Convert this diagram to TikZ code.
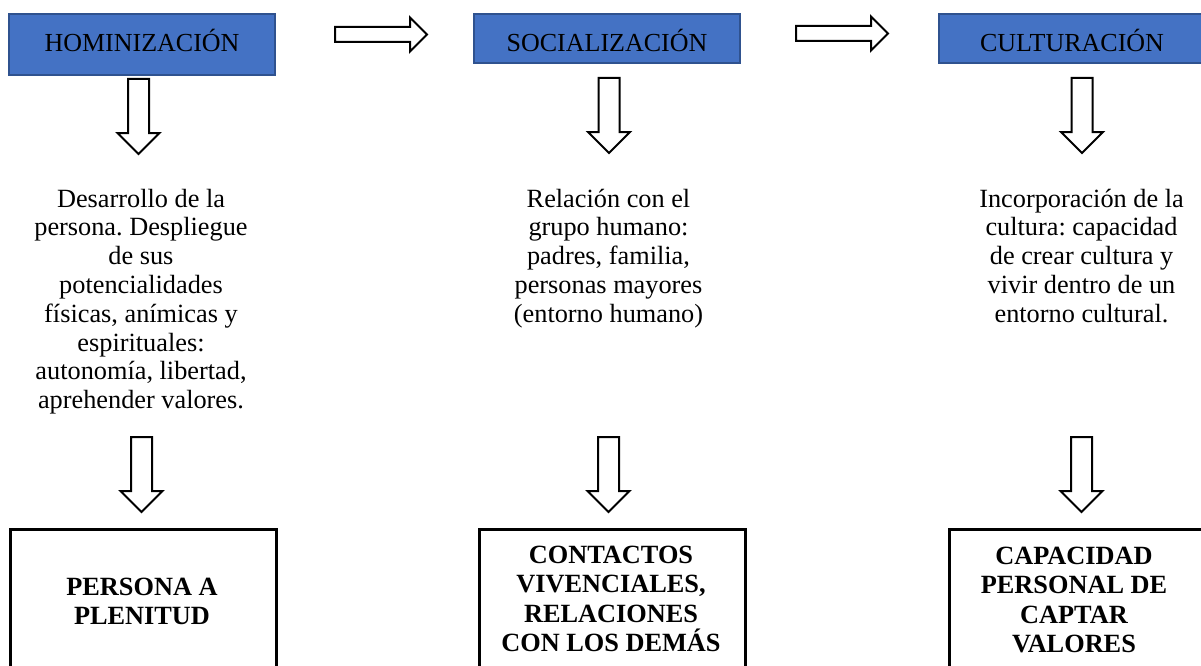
\documentclass[tikz,border=0pt]{standalone}
\usepackage{fontspec}
\setmainfont{Liberation Serif}
\frenchspacing
\definecolor{hdrblue}{HTML}{4472C4}
\definecolor{hdredge}{HTML}{2F528F}
\tikzset{
  hdr/.style={draw=hdredge, line width=1.2pt, fill=hdrblue, inner xsep=0pt, inner ysep=0pt,
    minimum width=266pt, font=\fontsize{26}{29}\selectfont, text=black, anchor=base},
  bodytxt/.style={align=center, inner sep=0pt, anchor=base, font=\fontsize{26.3}{28.8}\selectfont},
  boldtxt/.style={align=center, inner sep=0pt, anchor=base, font=\fontsize{26.3}{29.6}\selectfont\bfseries},
  outbox/.style={draw=black, line width=2.5pt, inner sep=0pt, anchor=north west, minimum height=220pt},
  blockline/.style={draw=black, line width=2pt, fill=white, line join=miter},
  darrow/.pic={\path[blockline] (-10.5,0) -- (-10.5,54) -- (-21,54) -- (0,75) -- (21,54) -- (10.5,54) -- (10.5,0) -- cycle;},
  rarrow/.pic={\path[blockline] (0,-7.5) -- (75,-7.5) -- (75,-17) -- (92,0) -- (75,17) -- (75,7.5) -- (0,7.5) -- cycle;}
}
\begin{document}
\begin{tikzpicture}[x=1pt, y=-1pt]
\useasboundingbox (0,0) rectangle (1201,666);
\clip (0,0) rectangle (1201,666);

% header boxes
\node[hdr, text height=38pt, text depth=23pt] (h1) at (142,52) {HOMINIZACIÓN};
\node[hdr, text height=38pt, text depth=11pt] (h2) at (607,52) {SOCIALIZACIÓN};
\node[hdr, text height=38pt, text depth=11pt, minimum width=266pt] (h3) at (1072,52) {CULTURACIÓN};

% horizontal block arrows
\pic at (335,34.5) {rarrow};
\pic at (796,33.5) {rarrow};

% upper down arrows
\pic at (138.5,79) {darrow};
\pic at (609,78) {darrow};
\pic at (1082,78) {darrow};

% description texts (anchor = baseline of the last line)
\node[bodytxt] (t1) at (141,408.6) {Desarrollo de la\\persona. Despliegue\\de sus\\potencialidades\\físicas, anímicas y\\espirituales:\\autonomía, libertad,\\aprehender valores.};
\node[bodytxt] (t2) at (608.5,322.2) {Relación con el\\grupo humano:\\padres, familia,\\personas mayores\\(entorno humano)};
\node[bodytxt] (t3) at (1081.5,322.2) {Incorporación de la\\cultura: capacidad\\de crear cultura y\\vivir dentro de un\\entorno cultural.};

% lower down arrows
\pic at (141.5,437) {darrow};
\pic at (608.5,437) {darrow};
\pic at (1081.5,437) {darrow};

% result boxes
\node[outbox, minimum width=266pt] (b1) at (9,528) {};
\node[outbox, minimum width=266pt] (b2) at (478,528) {};
\node[outbox, minimum width=258pt] (b3) at (948,528) {};
\node[boldtxt] (r1) at (142,624.6) {PERSONA A\\PLENITUD};
\node[boldtxt] (r2) at (611,651.8) {CONTACTOS\\VIVENCIALES,\\RELACIONES\\CON LOS DEMÁS};
\node[boldtxt] (r3) at (1074,652.8) {CAPACIDAD\\PERSONAL DE\\CAPTAR\\VALORES};
\end{tikzpicture}
\end{document}
